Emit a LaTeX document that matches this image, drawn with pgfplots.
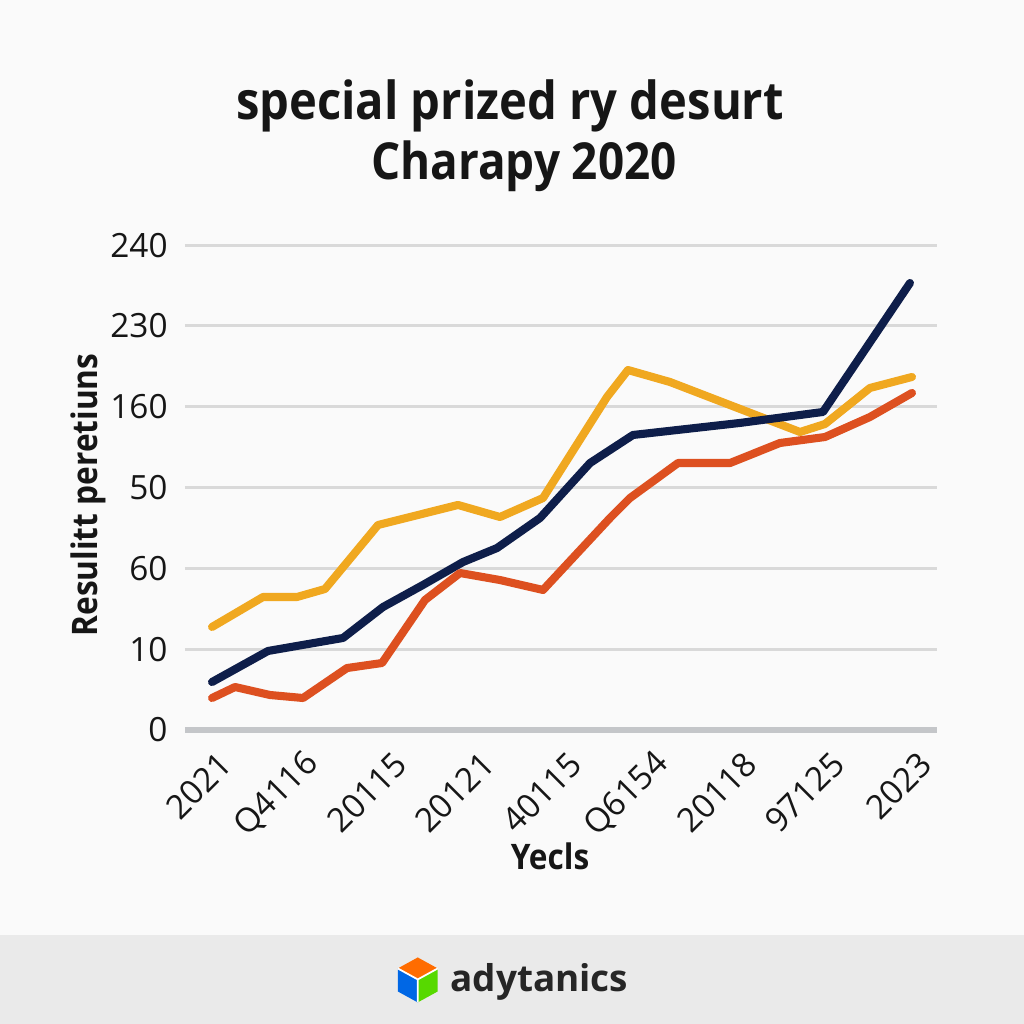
\documentclass[border=0pt]{standalone}
\usepackage{pgfplots}
\pgfplotsset{compat=1.18}
\usepackage{fontspec}
\setmainfont{Open Sans}
\newfontfamily\tfont[FakeStretch=0.9]{Open Sans}
\definecolor{cyel}{HTML}{F0A820}
\definecolor{cnavy}{HTML}{0E1E4A}
\definecolor{cred}{HTML}{DD5020}
\definecolor{gridc}{HTML}{D9D9D9}
\definecolor{axc}{HTML}{C4C6C9}
\definecolor{bgc}{HTML}{FAFAFA}
\definecolor{footc}{HTML}{EAEAEA}
\definecolor{txtc}{HTML}{161616}
\begin{document}
\begin{tikzpicture}
\fill[bgc] (0,0) rectangle (10.24cm,10.24cm);
\fill[footc] (0,0) rectangle (10.24cm,0.89cm);
\begin{axis}[
  at={(1.85cm,2.94cm)}, anchor=south west,
  scale only axis, width=7.52cm, height=5.01cm,
  xmin=-0.309, xmax=8.286, ymin=0, ymax=6.2,
  clip=false,
  axis line style={draw=none},
  tick style={draw=none},
  ymajorgrids,
  grid style={gridc, line width=0.85pt},
  ytick={1,2,3,4,5,6},
  yticklabels={10,60,50,160,230,240},
  extra y ticks={0},
  extra y tick labels={0},
  extra y tick style={grid style={axc, line width=1.8pt}},
  yticklabel style={font=\fontsize{9.5}{11}\selectfont, text=txtc, xshift=-0.05cm},
  xtick={0,1,2,3,4,5,6,7,8},
  xticklabels={2021,Q4116,20115,20121,40115,Q6154,20118,97125,2023},
  xticklabel style={font=\fontsize{9.5}{11}\selectfont, text=txtc, rotate=45, anchor=east, xshift=0.02cm, yshift=-0.3cm},
]
\addplot[cyel, line width=2.3pt, line join=round, line cap=round] coordinates {
(0,1.275) (0.583,1.646) (0.971,1.646) (1.291,1.745) (1.897,2.537) (2.811,2.785) (3.291,2.636) (3.783,2.871) (4.514,4.121) (4.754,4.455) (5.234,4.307) (6.72,3.688) (7.006,3.787) (7.52,4.233) (8.0,4.369)};
\addplot[cnavy, line width=2.3pt, line join=round, line cap=round] coordinates {
(0,0.594) (0.64,0.978) (1.497,1.139) (1.954,1.522) (2.411,1.795) (2.869,2.079) (3.257,2.252) (3.749,2.624) (4.32,3.304) (4.811,3.651) (6.034,3.800) (6.983,3.936) (7.977,5.532)};
\addplot[cred, line width=2.3pt, line join=round, line cap=round] coordinates {
(0,0.396) (0.263,0.532) (0.663,0.433) (1.04,0.396) (1.543,0.767) (1.943,0.829) (2.434,1.609) (2.834,1.943) (3.291,1.856) (3.783,1.733) (4.549,2.624) (4.777,2.871) (5.326,3.304) (5.92,3.304) (6.491,3.552) (7.006,3.626) (7.52,3.874) (8.0,4.171)};
\end{axis}
\node[font=\tfont\bfseries\fontsize{14.9}{16}\selectfont, text=txtc, anchor=base] at (5.10cm,9.04cm) {special prized ry desurt};
\node[font=\tfont\bfseries\fontsize{14.5}{16}\selectfont, text=txtc, anchor=base] at (5.24cm,8.44cm) {Charapy 2020};
\node[font=\tfont\bfseries\fontsize{10}{12}\selectfont, text=txtc, rotate=90] at (0.88cm,5.29cm) {Resulitt peretiuns};
\node[font=\tfont\bfseries\fontsize{10}{12}\selectfont, text=txtc, anchor=base] at (5.50cm,1.54cm) {Yecls};
\begin{scope}[shift={(0,10.24cm)}, x=0.01cm, y=-0.01cm]
\fill[orange!85!red] (418,958) -- (438,969) -- (418,980) -- (398,969) -- cycle;
\fill[blue!55!cyan!90!black] (398,969) -- (418,980) -- (418,1003) -- (398,992) -- cycle;
\fill[green!60!yellow!85!black] (418,980) -- (438,969) -- (438,992) -- (418,1003) -- cycle;
\draw[white, line width=0.5pt] (398,969) -- (418,980) -- (438,969) (418,980) -- (418,1003);
\end{scope}
\node[font=\bfseries\fontsize{10.5}{12}\selectfont, text=black!85, anchor=base west] at (4.38cm,0.32cm) {adytanics};
\end{tikzpicture}
\end{document}
